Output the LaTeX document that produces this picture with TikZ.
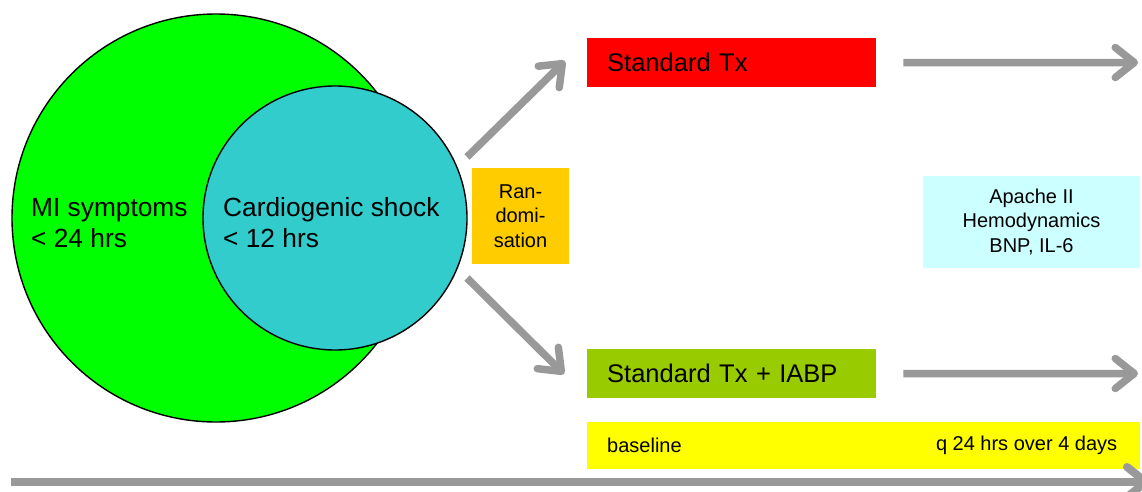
\documentclass[tikz,border=0pt]{standalone}
\usepackage{fontspec}
\setmainfont{Liberation Sans}
\usetikzlibrary{positioning,arrows.meta,calc}
\definecolor{venngreen}{RGB}{0,255,0}
\definecolor{shockteal}{RGB}{51,204,204}
\definecolor{randgold}{RGB}{255,204,0}
\definecolor{armred}{RGB}{255,0,0}
\definecolor{armgreen}{RGB}{153,204,0}
\definecolor{tlyellow}{RGB}{255,255,0}
\definecolor{paramcyan}{RGB}{204,255,255}
\definecolor{flowgray}{RGB}{153,153,153}
\newcommand{\bigtxt}{\fontsize{25.5}{31}\selectfont}
\newcommand{\venntxt}{\fontsize{26.3}{31}\selectfont}
\newcommand{\smalltxt}{\fontsize{20}{24.5}\selectfont}
\tikzset{
  venn/.style   ={circle, draw=black, line width=1.4pt, inner sep=0pt},
  vlbl/.style   ={font=\venntxt, align=left, anchor=west, inner sep=0pt},
  armbox/.style ={rectangle, anchor=north west, minimum width=289pt, minimum height=49pt,
                  inner xsep=20pt, inner ysep=0pt, text width=249pt, align=left, font=\bigtxt},
  infobox/.style={rectangle, inner sep=0pt, align=center, font=\smalltxt},
  flow/.style   ={draw=flowgray, line width=7.5pt,
                  -{Straight Barb[length=19pt,width=30pt,round]}},
}

\begin{document}
\begin{tikzpicture}[x=1pt,y=-1pt]
\clip (0,0) rectangle (1142,492);

% patient population
\node[venn,fill=venngreen,minimum size=408pt] (mi) at (216,218) {};
\node[venn,fill=shockteal,minimum size=264pt] (cs) at (335,218) {};
\node[vlbl] (milbl) at (31,223) {MI symptoms\\< 24 hrs};
\node[vlbl] (cslbl) at (223,223) {Cardiogenic shock\\< 12 hrs};

\node[infobox,fill=randgold,minimum width=97pt,minimum height=96pt] (rand) at (520.5,216) {Ran-\\domi-\\sation};

% treatment arms
\node[armbox,fill=armred] (std) at (587,38) {Standard Tx};
\node[armbox,fill=armgreen] (iabp) at (587,349) {Standard Tx + IABP};

\node[infobox,fill=paramcyan,minimum width=217pt,minimum height=92pt] (params) at (1031.5,222) {Apache II\\Hemodynamics\\BNP, IL-6};

% time line
\node[rectangle,fill=tlyellow,anchor=north west,minimum width=553pt,minimum height=47pt,inner sep=0pt] (tl) at (587,422) {};
\node[font=\smalltxt,anchor=west,inner sep=0pt] (tlbase) at ($(tl.west)+(20,0)$) {baseline};
\node[font=\smalltxt,anchor=east,inner sep=0pt] (tlrep) at ($(tl.east)+(-23,0)$) {q 24 hrs over 4 days};

\coordinate (upS) at (467,157);
\coordinate (upE) at (565,61);
\coordinate (loS) at (467,278);
\coordinate (loE) at (564,374);
\coordinate (stdout) at (1138,62.5);
\coordinate (iabpout) at (1138,373.5);
\coordinate (tlS) at (11,482);
\coordinate (tlE) at (1150,482);

\draw[flow] (upS) -- (upE);
\draw[flow] (loS) -- (loE);
\draw[flow,shorten <=27pt] (std) -- (stdout);
\draw[flow,shorten <=27pt] (iabp) -- (iabpout);
\draw[flow,line width=8pt] (tlS) -- (tlE);
\end{tikzpicture}
\end{document}
